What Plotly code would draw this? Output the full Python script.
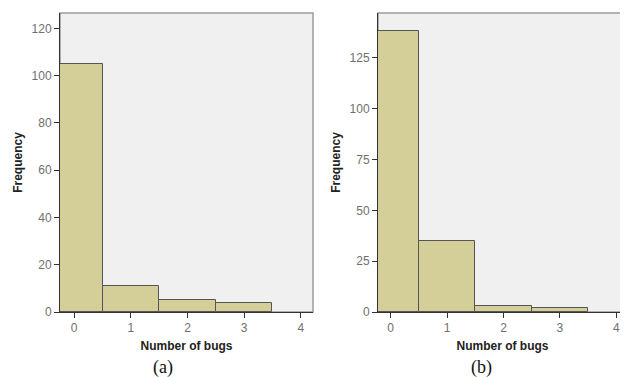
import plotly.graph_objects as go

bugs = [0, 1, 2, 3]
freq_a = [105, 11, 5, 4]
freq_b = [138, 35, 3, 2]
x_ticks = [0, 1, 2, 3, 4]
y_ticks_a = [0, 20, 40, 60, 80, 100, 120]
y_ticks_b = [0, 25, 50, 75, 100, 125]
captions = ["(a)", "(b)"]

# page is 628x377 but the HTML body has an 8px default margin
OFF = 8
W, H = 628 - OFF, 377 - OFF
BAR = "#d4cf98"
EDGE = "#555555"
BG = "#f0f0f0"

fig = go.Figure()
fig.add_trace(go.Bar(x=bugs, y=freq_a, width=1, marker=dict(color=BAR, line=dict(color=EDGE, width=1)),
                     xaxis="x", yaxis="y", showlegend=False))
fig.add_trace(go.Bar(x=bugs, y=freq_b, width=1, marker=dict(color=BAR, line=dict(color=EDGE, width=1)),
                     xaxis="x2", yaxis="y2", showlegend=False))

def px_x(p):
    return (p - OFF) / W

def px_y(p):
    return 1 - (p - OFF) / H

top, bot = 13, 312
dom_a = [px_x(60), px_x(313)]
dom_b = [px_x(378), px_x(627)]
ydom = [px_y(bot), px_y(top)]

tickfont = dict(family="Arial, Liberation Sans, sans-serif", size=12, color="#707070")
titlefont = dict(family="Arial, Liberation Sans, sans-serif", size=12, color="#222222")

common_x = dict(tickmode="array", tickvals=x_ticks, ticks="outside", ticklen=5, tickcolor="#333",
                showgrid=False, zeroline=False, showline=True, linecolor="#333", linewidth=1,
                automargin=False,
                tickfont=tickfont, title=dict(text="<b>Number of bugs</b>", font=titlefont, standoff=7))
common_y = dict(ticks="outside", ticklen=5, tickcolor="#333", showgrid=False, zeroline=False,
                showline=True, linecolor="#333", linewidth=1, tickfont=tickfont, automargin=False,
                title=dict(text="<b>Frequency</b>", font=titlefont, standoff=6))

fig.update_layout(
    template="none",
    width=W, height=H, margin=dict(l=0, r=0, t=0, b=0, autoexpand=False),
    paper_bgcolor="white", plot_bgcolor=BG, bargap=0,
    xaxis=dict(domain=dom_a, range=[-0.25, 4.215], anchor="y", **common_x),
    yaxis=dict(domain=ydom, range=[0, 126.5], anchor="x", tickvals=y_ticks_a, **common_y),
    xaxis2=dict(domain=dom_b, range=[-0.225, 4.19], anchor="y2", **common_x),
    yaxis2=dict(domain=ydom, range=[0, 147], anchor="x2", tickvals=y_ticks_b, **common_y),
)

# gray frame around each plot area
for xr, yr in [("x domain", "y domain"), ("x2 domain", "y2 domain")]:
    fig.add_shape(type="rect", xref=xr, yref=yr, x0=0, x1=1, y0=0, y1=1,
                  line=dict(color="#9a9a9a", width=1.5), layer="below")

for cap, cx in zip(captions, [163, 481]):
    fig.add_annotation(text=cap, x=px_x(cx), y=px_y(367), xref="paper", yref="paper",
                       showarrow=False, xanchor="center", yanchor="middle",
                       font=dict(family="Times New Roman, Liberation Serif, serif", size=18, color="#111"))

fig.write_html("out.html")
